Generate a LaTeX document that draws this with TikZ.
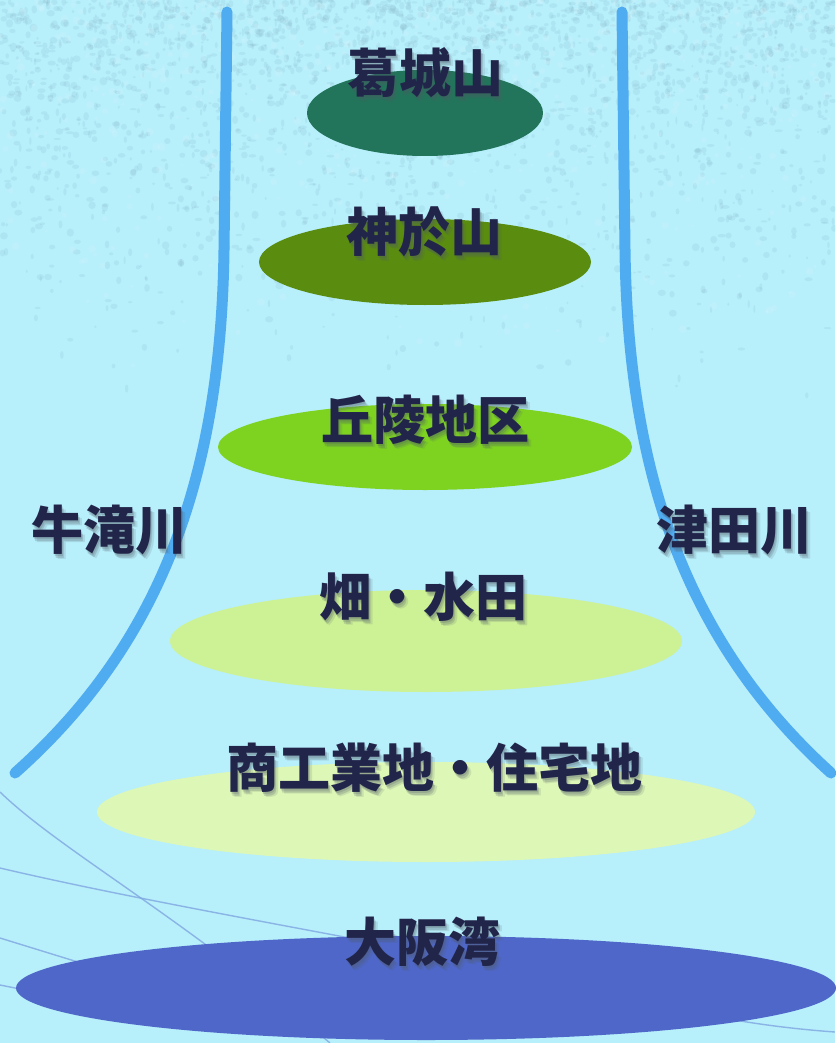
\documentclass[tikz,border=0pt]{standalone}
\usepackage{fontspec}
\setmainfont{Noto Sans CJK JP}
\usetikzlibrary{shapes.geometric,calc}
\definecolor{bg}{HTML}{B7EFFB}
\definecolor{texd}{HTML}{6E98AE}
\definecolor{river}{HTML}{4FACF1}
\definecolor{thin}{HTML}{7FA6E0}
\definecolor{txt}{HTML}{22254A}
\definecolor{shd}{HTML}{4E5A66}
\definecolor{cA}{HTML}{22755A}
\definecolor{cB}{HTML}{5A8C10}
\definecolor{cC}{HTML}{7ED321}
\definecolor{cD}{HTML}{CDF296}
\definecolor{cE}{HTML}{DDF7B6}
\definecolor{cF}{HTML}{4F67C8}
\tikzset{
  area/.style={ellipse, inner sep=0pt, draw=none},
  lbl/.style={font=\fontsize{52}{52}\selectfont\bfseries, text=txt, inner sep=0pt},
  shdw/.style={font=\fontsize{52}{52}\selectfont\bfseries, text=shd, inner sep=0pt},
  riverline/.style={draw=river, line width=11pt, line cap=round},
  thinline/.style={draw=thin, line width=1.4pt, opacity=0.8},
}
\newcommand\lab[4]{%
  \foreach \dx/\dy/\op in {1/1.5/0.22, 2.5/3.5/0.22, 4/5/0.14, 0/0/0.12}{%
    \node[shdw, opacity=\op] at (#2+\dx,#3+\dy) {#4};}
  \node[lbl] (#1) at (#2,#3) {#4};
}
\begin{document}
\begin{tikzpicture}[x=1pt,y=-1pt]
\useasboundingbox (0,0) rectangle (835,1043);
\fill[bg] (0,0) rectangle (835,1043);
% texture at the top
\pgfmathsetseed{7}
\foreach \i in {1,...,2400}{
  \pgfmathsetmacro\xx{835*rnd}
  \pgfmathsetmacro\yy{400*rnd*rnd}
  \pgfmathsetmacro\rr{1+3.2*rnd}
  \pgfmathsetmacro\rs{1+3.2*rnd}
  \fill[texd, opacity=0.11] (\xx,\yy) ellipse (\rr pt and \rs pt);
}
\foreach \i in {1,...,600}{
  \pgfmathsetmacro\xx{835*rnd}
  \pgfmathsetmacro\yy{380*rnd*rnd}
  \pgfmathsetmacro\rr{1+3*rnd}
  \fill[white, opacity=0.10] (\xx,\yy) circle (\rr pt);
}
% thin lines lower left
\coordinate (l1a) at (0,792);
\coordinate (l1b) at (330,1043);
\coordinate (l2a) at (0,868);
\coordinate (l2b) at (835,1032);
\coordinate (l3a) at (0,938);
\coordinate (l3b) at (120,975);
\coordinate (l4a) at (0,985);
\coordinate (l4b) at (40,993);
\draw[thinline] (l1a) .. controls (60,850) and (180,915) .. (l1b);
\draw[thinline] (l2a) .. controls (200,915) and (500,960) .. (640,1000) .. controls (720,1020) and (780,1028) .. (l2b);
\draw[thinline] (l3a) -- (l3b);
\draw[thinline] (l4a) -- (l4b);
% areas
\node[area, fill=cA, minimum width=236pt, minimum height=86pt] (e1) at (425,113) {};
\node[area, fill=cB, minimum width=332pt, minimum height=86pt] (e2) at (425,262) {};
\node[area, fill=cC, minimum width=414pt, minimum height=86pt] (e3) at (425,447) {};
\node[area, fill=cD, minimum width=512pt, minimum height=102pt] (e4) at (426,641) {};
\node[area, fill=cE, minimum width=658pt, minimum height=100pt] (e5) at (426,812) {};
\node[area, fill=cF, minimum width=820pt, minimum height=104pt] (e6) at (426,988) {};
% rivers
\coordinate (ls) at (227,12);
\coordinate (lm) at (224,250);
\coordinate (le) at (15,773);
\coordinate (rs) at (622,12);
\coordinate (rm) at (625,250);
\coordinate (re) at (831,773);
\draw[riverline] (ls) -- (lm) .. controls (221,470) and (165,640) .. (le);
\draw[riverline] (rs) -- (rm) .. controls (628,470) and (684,640) .. (re);
% labels
\lab{t1}{425}{73}{葛城山}
\lab{t2}{424}{232}{神於山}
\lab{t3}{425}{420}{丘陵地区}
\lab{t4}{423}{597}{畑・水田}
\lab{t5}{434}{768}{商工業地・住宅地}
\lab{t6}{422}{942}{大阪湾}
\lab{t7}{109}{530}{牛滝川}
\lab{t8}{734}{530}{津田川}
\end{tikzpicture}
\end{document}
